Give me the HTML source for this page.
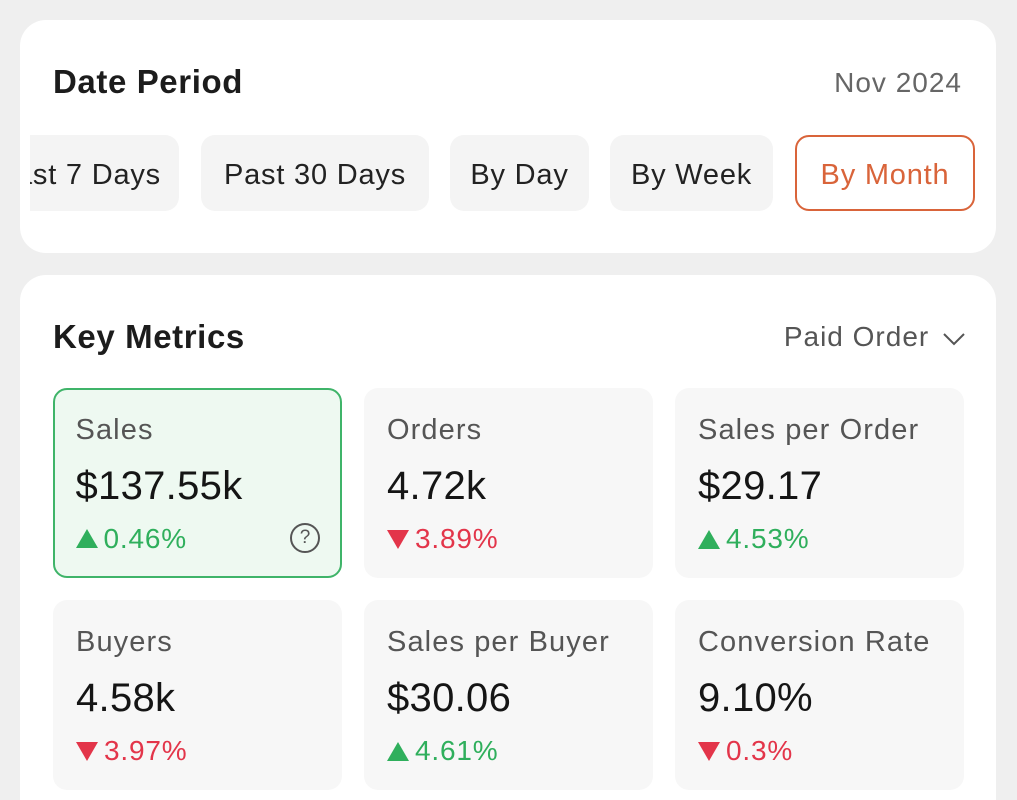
<!DOCTYPE html>
<html><head><meta charset="utf-8">
<style>
*{box-sizing:border-box;margin:0;padding:0}
html,body{width:1017px;height:800px;overflow:hidden}
body{background:#efefef;font-family:"Liberation Sans",sans-serif;position:relative;color:#1a1a1a}
.card{position:absolute;left:20px;width:976px;background:#fff;border-radius:26px}
.abs{position:absolute;white-space:nowrap}
.title{font-size:33px;font-weight:bold;letter-spacing:0.6px;color:#1c1c1c}
.chips{position:absolute;left:10px;top:115px;width:956px;height:80px;overflow:hidden}
.chip{position:absolute;top:0;height:76px;background:#f4f4f4;border-radius:14px;font-size:29px;letter-spacing:0.8px;color:#222;display:flex;align-items:center;justify-content:center;white-space:nowrap;padding-top:4px}
.chip.active{background:#fff;border:2px solid #d9643a;color:#d9643a}
.tile{position:absolute;width:289px;height:190px;background:#f7f7f7;border-radius:14px}
.tile.sel{background:#eef9f1;border:2.5px solid #3fb469}
.tile.sel .lbl,.tile.sel .val,.tile.sel .chg{margin-left:-2.5px;margin-top:-2.5px}
.lbl{position:absolute;left:23px;top:26px;font-size:29px;letter-spacing:1.1px;color:#555}
.val{position:absolute;left:23px;top:76px;font-size:40px;letter-spacing:0.3px;color:#151515}
.chg{position:absolute;left:23px;top:135px;font-size:28px;letter-spacing:0.8px;display:flex;align-items:center}
.up{color:#2faf5c}.down{color:#e3354a}
.tri{display:inline-block;width:0;height:0;margin-right:6px}
.up .tri{border-left:11px solid transparent;border-right:11px solid transparent;border-bottom:19px solid #2faf5c}
.down .tri{border-left:11px solid transparent;border-right:11px solid transparent;border-top:19px solid #e3354a}
.help{position:absolute;right:20px;top:133px;width:30px;height:30px;border:2px solid #555;border-radius:50%;font-size:19px;color:#555;text-align:center;line-height:26px}
</style></head><body>
<div class="card" style="top:20px;height:233px">
  <div class="abs title" style="left:33px;top:43px">Date Period</div>
  <div class="abs" style="right:34px;top:47px;font-size:28px;letter-spacing:1px;color:#666">Nov 2024</div>
  <div class="chips">
    <div class="chip" style="left:-80px;width:229px;justify-content:flex-end;padding-right:18px">Past 7 Days</div>
    <div class="chip" style="left:171px;width:228px">Past 30 Days</div>
    <div class="chip" style="left:420px;width:139px">By Day</div>
    <div class="chip" style="left:580px;width:163px">By Week</div>
    <div class="chip active" style="left:765px;width:180px">By Month</div>
  </div>
</div>
<div class="card" style="top:275px;height:560px">
  <div class="abs title" style="left:33px;top:43px">Key Metrics</div>
  <div class="abs" style="right:30px;top:46px;font-size:28px;letter-spacing:1px;color:#555">Paid Order <svg width="24" height="14" viewBox="0 0 24 14" style="vertical-align:middle;margin-left:4px"><path d="M2 2 L12 12 L22 2" fill="none" stroke="#555" stroke-width="2"/></svg></div>
</div>

<div class="tile sel" style="left:53px;top:388px">
  <div class="lbl">Sales</div>
  <div class="val">$137.55k</div>
  <div class="chg up"><span class="tri"></span>0.46%</div>
  <div class="help">?</div>
</div>
<div class="tile" style="left:364px;top:388px">
  <div class="lbl">Orders</div>
  <div class="val">4.72k</div>
  <div class="chg down"><span class="tri"></span>3.89%</div>
</div>
<div class="tile" style="left:675px;top:388px">
  <div class="lbl">Sales per Order</div>
  <div class="val">$29.17</div>
  <div class="chg up"><span class="tri"></span>4.53%</div>
</div>
<div class="tile" style="left:53px;top:600px">
  <div class="lbl">Buyers</div>
  <div class="val">4.58k</div>
  <div class="chg down"><span class="tri"></span>3.97%</div>
</div>
<div class="tile" style="left:364px;top:600px">
  <div class="lbl">Sales per Buyer</div>
  <div class="val">$30.06</div>
  <div class="chg up"><span class="tri"></span>4.61%</div>
</div>
<div class="tile" style="left:675px;top:600px">
  <div class="lbl">Conversion Rate</div>
  <div class="val">9.10%</div>
  <div class="chg down"><span class="tri"></span>0.3%</div>
</div>
</body></html>
